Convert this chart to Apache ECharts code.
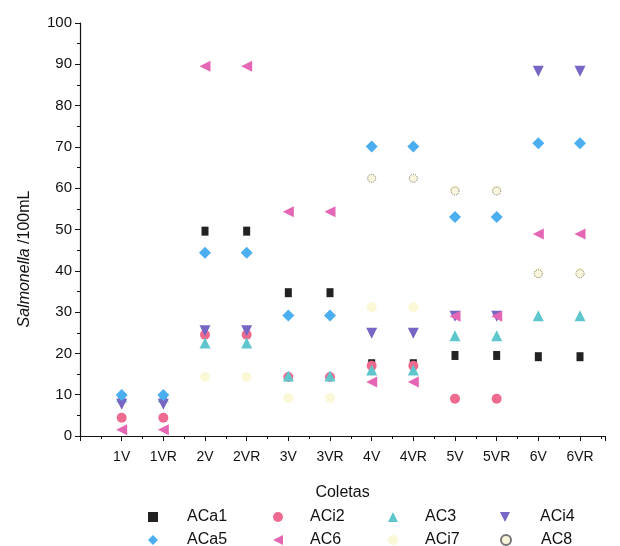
<!DOCTYPE html>
<html><head><meta charset="utf-8">
<script src="https://cdn.jsdelivr.net/npm/echarts@6/dist/echarts.min.js"></script>
<style>html,body{margin:0;padding:0;background:#fff}#c{width:620px;height:546px}</style>
</head><body><div id="c"></div>
<script>
const categories = ['1V','1VR','2V','2VR','3V','3VR','4V','4VR','5V','5VR','6V','6VR'];
const yTicks = [0,10,20,30,40,50,60,70,80,90,100];
const ACa1 = [9, 9, 49.6, 49.6, 34.7, 34.7, 17.5, 17.5, 19.5, 19.5, 19.2, 19.2];
const ACi2 = [4.4, 4.4, 24.5, 24.5, 14.3, 14.3, 17, 17, 9, 9, null, null];
const AC3  = [9.5, 9.5, 22.5, 22.5, 14.5, 14.5, 16, 16, 24.3, 24.3, 29.1, 29.1];
const ACi4 = [7.7, 7.7, 25.5, 25.5, null, null, 24.9, 24.9, 29, 29, 88.3, 88.3];
const ACa5 = [9.9, 9.9, 44.4, 44.4, 29.2, 29.2, 70.1, 70.1, 53, 53, 70.9, 70.9];
const AC6  = [1.5, 1.5, 89.5, 89.5, 54.3, 54.3, 13.1, 13.1, 29, 29, 48.9, 48.9];
const ACi7 = [null, null, 14.3, 14.3, 9.2, 9.2, 31.2, 31.2, 59.5, 59.5, 39.5, 39.5];
const AC8  = [null, null, null, null, null, null, 62.4, 62.4, 59.3, 59.3, 39.3, 39.3];

const seriesDefs = [
  {name:'ACa1', data:ACa1, symbol:'rect', size:[7,9], color:'#222222'},
  {name:'ACi2', data:ACi2, symbol:'circle', size:10, color:'#ee6a8e'},
  {name:'AC3', data:AC3, symbol:'triangle', size:11, color:'#5ec6cc'},
  {name:'ACi4', data:ACi4, symbol:'path://M0,0 L10,0 L5,10 Z', size:11, color:'#7766c4'},
  {name:'ACa5', data:ACa5, symbol:'diamond', size:12, color:'#4aaef0'},
  {name:'AC6', data:AC6, symbol:'path://M10,0 L10,10 L0,5 Z', size:11, color:'#e466b4'},
  {name:'ACi7', data:ACi7, symbol:'circle', size:10, color:'#fbf8d8'},
  {name:'AC8', data:AC8, symbol:'circle', size:8, color:'#faf6dc', border:'#777'}
];

const series = seriesDefs.map(d => ({
  name: d.name, type: 'scatter', symbol: d.symbol, symbolSize: d.size,
  itemStyle: Object.assign({color: d.color, opacity: 1}, d.border ? {borderColor: d.border, borderType:'dotted', borderWidth: 1} : {}),
  data: d.data.map((v,i) => v == null ? null : [i+1, v])
}));

// legend grid: 4 columns, 2 rows
const legendX = [148, 273, 388, 500];
const legendPad = [24, 22, 22, 25];
const legendY = [509, 532];
const legends = seriesDefs.map((d, i) => {
  const col = i % 4, row = Math.floor(i / 4);
  return {
    left: legendX[col], top: legendY[row], padding: 0, itemWidth: 10, itemHeight: 10,
    textStyle: {fontSize: 16, color: '#111', fontFamily: 'Liberation Sans, Arial', padding: [0,0,0,legendPad[col]]},
    data: [{name: d.name}]
  };
});

const chart = echarts.init(document.getElementById('c'));
chart.setOption({
  animation: false,
  backgroundColor: '#fff',
  grid: {left: 80, right: 15, top: 23, bottom: 110},
  legend: legends,
  xAxis: {
    type: 'value', min: 0, max: 12.6, interval: 1,
    name: 'Coletas', nameLocation: 'middle', nameGap: 49,
    nameTextStyle: {fontSize: 16, color: '#111', fontFamily: 'Liberation Sans, Arial'},
    splitLine: {show: false},
    axisLine: {show: true, lineStyle: {color: '#111', width: 1.2}},
    axisTick: {show: true, length: 5, lineStyle: {color: '#111'}},
    minorTick: {show: true, splitNumber: 2, length: 3, lineStyle: {color: '#111'}},
    axisLabel: {fontSize: 14, color: '#111', fontFamily: 'Liberation Sans, Arial', margin: 14,
      formatter: v => (v >= 1 && v <= categories.length && Number.isInteger(v)) ? categories[v-1] : ''}
  },
  yAxis: {
    type: 'value', min: 0, max: 100, interval: 10,
    splitLine: {show: false},
    axisLine: {show: true, lineStyle: {color: '#111', width: 1.2}},
    axisTick: {show: true, length: 5, lineStyle: {color: '#111'}},
    minorTick: {show: true, splitNumber: 2, length: 3, lineStyle: {color: '#111'}},
    axisLabel: {fontSize: 15, color: '#111', fontFamily: 'Liberation Sans, Arial', margin: 8,
      formatter: v => yTicks.includes(v) ? String(v) : ''}
  },
  graphic: [{
    type: 'text', x: 25, y: 259, rotation: Math.PI/2,
    style: {
      text: '{i|Salmonella} /100mL', align: 'center', verticalAlign: 'middle',
      fontSize: 16, fill: '#111', fontFamily: 'Liberation Sans, Arial',
      rich: {i: {fontStyle: 'italic', fontSize: 16, fontFamily: 'Liberation Sans, Arial', fill: '#111'}}
    }
  }],
  series: series
});
</script>
</body></html>
